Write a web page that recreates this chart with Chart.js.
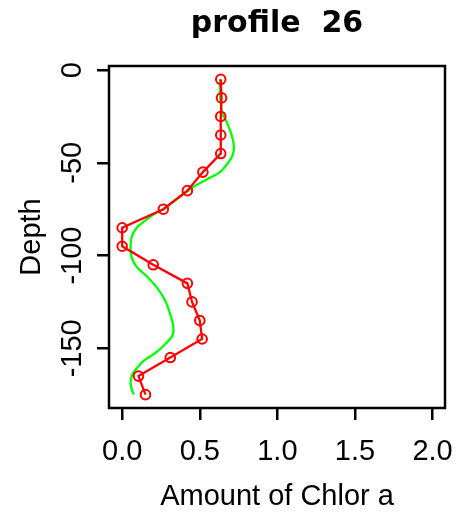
<!DOCTYPE html>
<html lang="en">
<head>
    <meta charset="UTF-8">
    <title>profile 26</title>
    <style>
        body { margin: 0; padding: 0; background-color: #fff; }
        .chart-container { width: 456px; height: 514px; }
    </style>
    <script src="https://cdn.jsdelivr.net/npm/chart.js"></script>
</head>
<body>

<div class="chart-container">
    <canvas id="myChart" width="456" height="514"></canvas>
</div>

<script>
    // measured profile (red) - depth and chlorophyll amount
    const redDepth = [-5, -15, -25, -35, -45, -55, -65, -75, -85, -95, -105, -115, -125, -135, -145, -155, -165, -175];
    const redAmount = [0.635, 0.64, 0.635, 0.635, 0.635, 0.52, 0.42, 0.265, 0.0, 0.0, 0.2, 0.42, 0.45, 0.5, 0.515, 0.31, 0.105, 0.15];

    // smoothed profile (green)
    const greenDepth = [-5, -15, -24, -27, -35, -41, -46, -50, -55, -59, -63, -67, -71, -75, -78, -82, -85, -90, -95, -101, -106, -111, -117, -124, -131, -138, -143, -147, -152, -157, -162, -165, -169, -172, -175];
    const greenAmount = [0.63, 0.632, 0.647, 0.668, 0.705, 0.72, 0.711, 0.683, 0.63, 0.544, 0.458, 0.393, 0.329, 0.264, 0.2, 0.135, 0.093, 0.061, 0.054, 0.061, 0.093, 0.157, 0.222, 0.275, 0.307, 0.329, 0.325, 0.286, 0.222, 0.135, 0.082, 0.061, 0.054, 0.061, 0.075];

    const xTicks = [0, 0.5, 1, 1.5, 2];
    const xTickLabels = ['0.0', '0.5', '1.0', '1.5', '2.0'];
    const yTicks = [0, -50, -100, -150];
    const yTickLabels = ['0', '-50', '-100', '-150'];

    const FONT = 'Liberation Sans';

    function toPoints(xs, ys) {
        return xs.map((v, i) => ({ x: v, y: ys[i] }));
    }

    // R style box round the plot region
    const framePlugin = {
        id: 'frame',
        afterDatasetsDraw(chart) {
            const { ctx, chartArea: a } = chart;
            ctx.save();
            ctx.strokeStyle = '#000';
            ctx.lineWidth = 2.5;
            ctx.strokeRect(a.left, a.top, a.right - a.left, a.bottom - a.top);
            ctx.restore();
        }
    };

    const ctx = document.getElementById('myChart').getContext('2d');
    const myChart = new Chart(ctx, {
        type: 'scatter',
        data: {
            datasets: [{
                label: 'observed',
                data: toPoints(redAmount, redDepth),
                showLine: true,
                borderColor: '#ff0000',
                borderWidth: 2.3,
                pointRadius: 4.8,
                pointBorderWidth: 2,
                pointBorderColor: '#ff0000',
                pointBackgroundColor: 'rgba(0,0,0,0)',
                tension: 0
            }, {
                label: 'smooth',
                data: toPoints(greenAmount, greenDepth),
                showLine: true,
                borderColor: '#00ff00',
                borderWidth: 2.3,
                pointRadius: 0,
                tension: 0.3
            }]
        },
        options: {
            responsive: false,
            animation: false,
            layout: { padding: { left: 0, right: 11, top: 0, bottom: 0 } },
            plugins: {
                legend: { display: false },
                tooltip: { enabled: false },
                title: {
                    display: true,
                    fullSize: false,
                    text: 'profile  26',
                    color: '#000',
                    font: { family: 'DejaVu Sans', size: 30, weight: 'bold' },
                    padding: { top: 6.6, bottom: 23.4 }
                }
            },
            scales: {
                x: {
                    type: 'linear',
                    min: -0.085,
                    max: 2.08,
                    afterBuildTicks: s => { s.ticks = xTicks.map(v => ({ value: v })); },
                    afterFit: s => { s.height = 106; s.paddingLeft = 0; s.paddingRight = 0; },
                    ticks: {
                        callback: (v, i) => xTickLabels[i],
                        color: '#000',
                        font: { family: FONT, size: 29 },
                        padding: 15,
                        minRotation: 0,
                        maxRotation: 0,
                        autoSkip: false
                    },
                    grid: { drawOnChartArea: false, drawTicks: true, tickLength: 12, color: '#000', lineWidth: 2.5 },
                    border: { display: false },
                    title: {
                        display: true,
                        text: 'Amount of Chlor a',
                        color: '#000',
                        font: { family: FONT, size: 29 },
                        padding: { top: 0, bottom: 0 }
                    }
                },
                y: {
                    type: 'linear',
                    min: -182.2,
                    max: 2.2,
                    afterBuildTicks: s => { s.ticks = yTicks.map(v => ({ value: v })); },
                    afterFit: s => { s.width = 109; s.paddingTop = 0; s.paddingBottom = 0; },
                    ticks: {
                        callback: (v, i) => yTickLabels[i],
                        color: '#000',
                        font: { family: FONT, size: 29 },
                        padding: -5.5,
                        minRotation: 90,
                        maxRotation: 90,
                        crossAlign: 'center',
                        autoSkip: false
                    },
                    grid: { drawOnChartArea: false, drawTicks: true, tickLength: 12, color: '#000', lineWidth: 2.5 },
                    border: { display: false },
                    title: {
                        display: true,
                        text: 'Depth',
                        color: '#000',
                        font: { family: FONT, size: 29 },
                        padding: { top: 14.6, bottom: 0 }
                    }
                }
            }
        },
        plugins: [framePlugin]
    });
</script>

</body>
</html>
